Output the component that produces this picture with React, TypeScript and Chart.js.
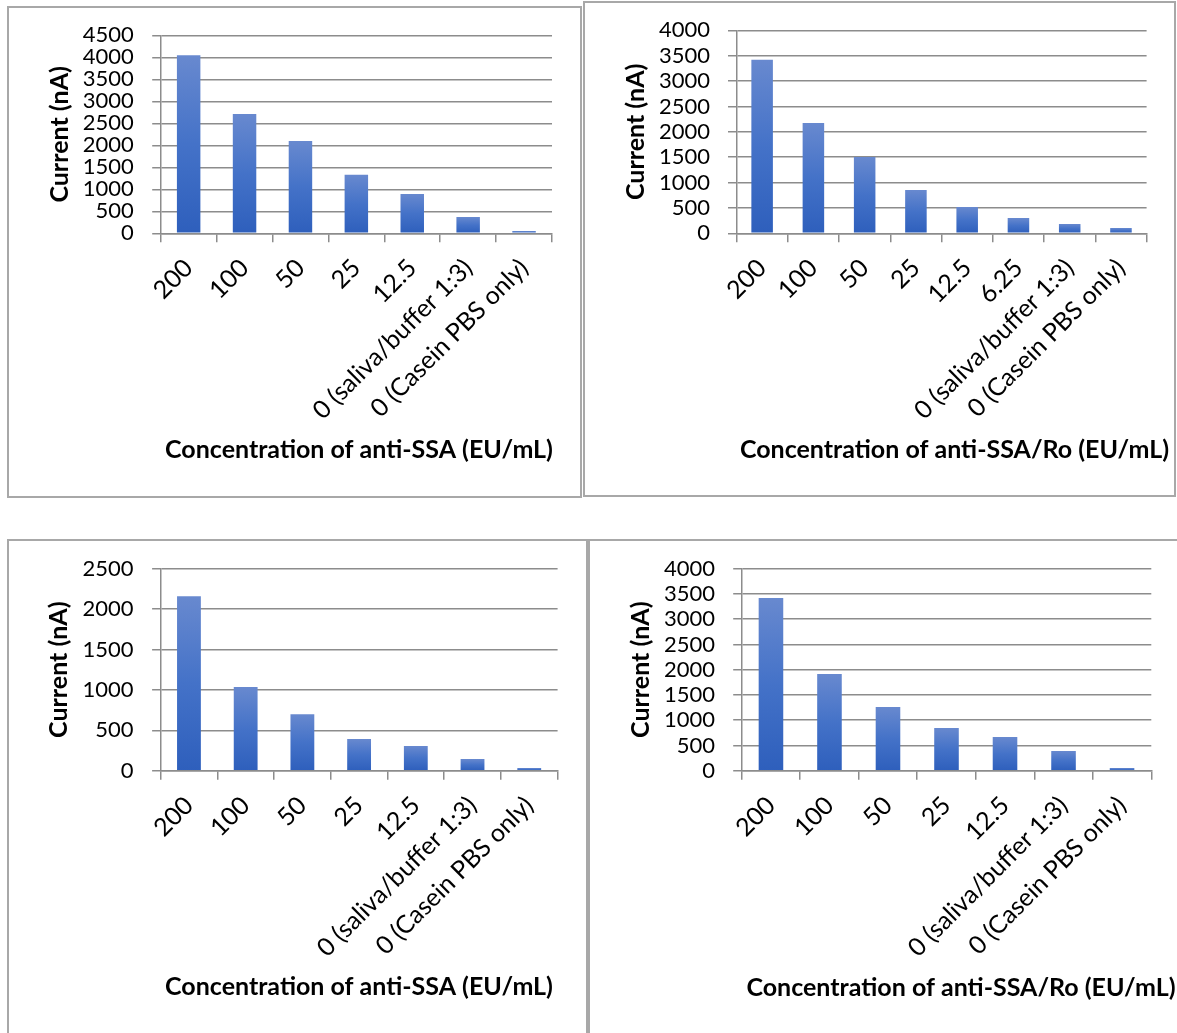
import React, { useEffect, useRef } from "react";
import { Chart, registerables } from "chart.js";

Chart.register(...registerables);

// ---- data ----
const SSA_LABELS = ["200", "100", "50", "25", "12.5", "0 (saliva/buffer 1:3)", "0 (Casein PBS only)"];
const SSA_RO_LABELS = ["200", "100", "50", "25", "12.5", "6.25", "0 (saliva/buffer 1:3)", "0 (Casein PBS only)"];

const SSA_CURRENT_1 = [4050, 2710, 2100, 1330, 895, 370, 50];
const SSA_RO_CURRENT_1 = [3420, 2175, 1505, 855, 520, 300, 185, 105];
const SSA_CURRENT_2 = [2160, 1035, 700, 392, 305, 144, 33];
const SSA_RO_CURRENT_2 = [3420, 1915, 1260, 845, 667, 390, 53];

const Y_MAX = [4500, 4000, 2500, 4000];
const Y_STEP = 500;

const Y_TITLE = "Current (nA)";
const X_TITLES = [
  "Concentration of anti-SSA (EU/mL)",
  "Concentration of anti-SSA/Ro (EU/mL)",
  "Concentration of anti-SSA (EU/mL)",
  "Concentration of anti-SSA/Ro (EU/mL)",
];

// ---- look ----
const FONT = "Lato, 'Open Sans', 'DejaVu Sans', sans-serif";
const GRID = "#8c8c8c";
const FRAME = "#a8a8a8";
const TICK_LEN_Y = 8.5;
const TICK_LEN_X = 9;
const Y_TICK_FONT = 22;
const X_TICK_FONT = 25;
const TITLE_FONT = 25;
const TITLE_LINE = 1.2;
const X_ROTATION = 45;

type Box = { x: number; y: number; w: number; h: number };
type Plot = { left: number; right: number; top: number; bottom: number };
type Panel = {
  labels: string[];
  values: number[];
  yMax: number;
  xTitle: string;
  box: Box;
  plot: Plot;
  yTitleX: number;
  yTickRight: number;
  xTitleX: number;
  xTitleY: number;
};

const PANELS: Panel[] = [
  {
    labels: SSA_LABELS, values: SSA_CURRENT_1, yMax: Y_MAX[0], xTitle: X_TITLES[0],
    box: { x: 7, y: 6, w: 575, h: 492 },
    plot: { left: 160.7, right: 552, top: 35.3, bottom: 233.3 },
    yTitleX: 59.5, yTickRight: 133.8, xTitleX: 359, xTitleY: 450,
  },
  {
    labels: SSA_RO_LABELS, values: SSA_RO_CURRENT_1, yMax: Y_MAX[1], xTitle: X_TITLES[1],
    box: { x: 583, y: 1, w: 593, h: 496 },
    plot: { left: 736.5, right: 1146.6, top: 30.3, bottom: 233.3 },
    yTitleX: 636, yTickRight: 710, xTitleX: 954.5, xTitleY: 450,
  },
  {
    labels: SSA_LABELS, values: SSA_CURRENT_2, yMax: Y_MAX[2], xTitle: X_TITLES[2],
    box: { x: 7, y: 539, w: 581, h: 500 },
    plot: { left: 160.6, right: 557.6, top: 568.7, bottom: 770.7 },
    yTitleX: 59, yTickRight: 133.6, xTitleX: 359, xTitleY: 987,
  },
  {
    labels: SSA_LABELS, values: SSA_RO_CURRENT_2, yMax: Y_MAX[3], xTitle: X_TITLES[3],
    box: { x: 588, y: 539, w: 600, h: 500 },
    plot: { left: 741.7, right: 1151.3, top: 568.7, bottom: 770.7 },
    yTitleX: 641, yTickRight: 715, xTitleX: 961, xTitleY: 988,
  },
];

// vertical blue gradient on each bar, light at the top, deeper at the base
function barFill(ctx: any) {
  const chart = ctx.chart;
  const y = chart.scales && chart.scales.y;
  if (!y || ctx.type !== "data" || y.top === undefined) return "#4472c4";
  const top = y.getPixelForValue(ctx.raw);
  const base = y.getPixelForValue(0);
  if (!isFinite(top) || !isFinite(base) || base - top < 0.5) return "#3f6fc6";
  const g = chart.ctx.createLinearGradient(0, top, 0, base);
  g.addColorStop(0, "#6889cf");
  g.addColorStop(0.5, "#4472c8");
  g.addColorStop(1, "#2e5fbc");
  return g;
}

// horizontal axis title, placed at a given centre below the rotated category labels
const xAxisTitle = {
  id: "xAxisTitle",
  afterDraw(chart: any, _args: any, opts: any) {
    if (!opts || !opts.text) return;
    const c = chart.ctx;
    c.save();
    c.font = `bold ${TITLE_FONT}px ${FONT}`;
    c.fillStyle = "#000";
    c.textAlign = "center";
    c.textBaseline = "middle";
    c.fillText(opts.text, opts.x, opts.y);
    c.restore();
  },
};

function BarPanel({ panel }: { panel: Panel }) {
  const ref = useRef<HTMLCanvasElement | null>(null);
  const { box } = panel;

  useEffect(() => {
    const canvas = ref.current;
    if (!canvas) return;
    const { plot } = panel;
    const yScaleWidth = plot.left - box.x;
    const padRight = box.w - (plot.right - box.x);
    const padTop = plot.top - box.y;
    const xScaleHeight = box.h - (plot.bottom - box.y);
    const titleLine = TITLE_FONT * TITLE_LINE;
    const yTitlePad = panel.yTitleX - box.x - titleLine / 2;
    const yTickPad = plot.left - panel.yTickRight - TICK_LEN_Y;

    const chart = new Chart(canvas, {
      type: "bar",
      data: {
        labels: panel.labels,
        datasets: [
          {
            data: panel.values,
            backgroundColor: barFill,
            borderWidth: 0,
            barPercentage: 0.42,
            categoryPercentage: 1,
          },
        ],
      },
      plugins: [xAxisTitle],
      options: {
        responsive: false,
        animation: false,
        layout: { padding: { left: 0, top: padTop, right: padRight, bottom: 0 } },
        plugins: {
          legend: { display: false },
          tooltip: { enabled: false },
          xAxisTitle: {
            text: panel.xTitle,
            x: panel.xTitleX - box.x,
            y: panel.xTitleY - box.y,
          },
        } as any,
        scales: {
          x: {
            offset: true,
            grid: {
              offset: true,
              drawOnChartArea: false,
              drawTicks: true,
              tickLength: TICK_LEN_X,
              color: GRID,
              lineWidth: 1.5,
            },
            border: { display: true, color: GRID, width: 1.5 },
            ticks: {
              autoSkip: false,
              minRotation: X_ROTATION,
              maxRotation: X_ROTATION,
              padding: 11,
              color: "#000",
              font: { family: FONT, size: X_TICK_FONT },
            },
            title: { display: false },
            afterFit: (s: any) => {
              s.height = xScaleHeight;
            },
          },
          y: {
            min: 0,
            max: panel.yMax,
            ticks: {
              stepSize: Y_STEP,
              autoSkip: false,
              padding: yTickPad,
              color: "#000",
              font: { family: FONT, size: Y_TICK_FONT, lineHeight: 1 },
              callback: (v: any) => String(v),
            },
            grid: {
              color: GRID,
              lineWidth: 1.5,
              drawTicks: true,
              tickLength: TICK_LEN_Y,
            },
            border: { display: true, color: GRID, width: 1.5 },
            title: {
              display: true,
              text: Y_TITLE,
              color: "#000",
              font: { family: FONT, size: TITLE_FONT, weight: "bold", lineHeight: TITLE_LINE },
              padding: { top: yTitlePad, bottom: 0 },
            },
            afterFit: (s: any) => {
              s.width = yScaleWidth;
            },
          },
        },
      },
    });
    return () => chart.destroy();
  }, [panel]);

  return (
    <>
      <canvas
        ref={ref}
        width={box.w}
        height={box.h}
        style={{ position: "absolute", left: box.x, top: box.y }}
      />
      <div
        style={{
          position: "absolute",
          left: box.x,
          top: box.y,
          width: box.w,
          height: box.h,
          border: `2px solid ${FRAME}`,
          boxSizing: "border-box",
          pointerEvents: "none",
        }}
      />
    </>
  );
}

export default function App() {
  return (
    <div
      style={{
        position: "fixed",
        left: 0,
        top: 0,
        width: 1177,
        height: 1033,
        overflow: "hidden",
        background: "#fff",
      }}
    >
      {PANELS.map((p, i) => (
        <BarPanel key={i} panel={p} />
      ))}
    </div>
  );
}
